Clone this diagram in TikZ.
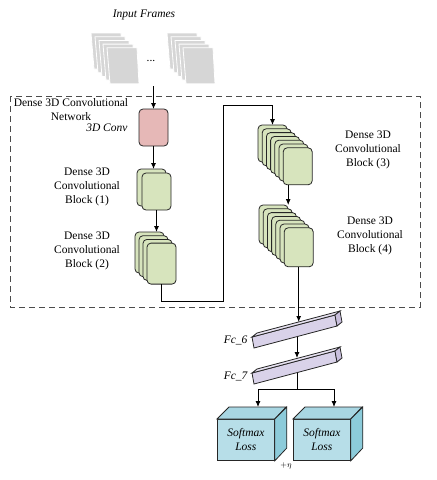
\documentclass[tikz,border=0pt]{standalone}
\usepackage{fontspec}
\setmainfont{Liberation Serif}
\usetikzlibrary{arrows.meta}

\definecolor{convpink}{HTML}{E6B8B7}
\definecolor{blockgreen}{HTML}{D7E4BD}
\definecolor{fcfront}{HTML}{D9D2E9}
\definecolor{fctop}{HTML}{E8E3F2}
\definecolor{fcend}{HTML}{C9BFDD}
\definecolor{lossfront}{HTML}{B7DEE8}
\definecolor{losstop}{HTML}{A8D6E2}
\definecolor{lossside}{HTML}{8CCBDA}
\definecolor{framegray}{HTML}{D6D6D6}

\tikzset{
  conn/.style={line width=0.9pt, -{Latex[length=6pt,width=5pt]}},
  plainline/.style={line width=0.9pt},
  sheet/.style={draw=black!85, line width=0.8pt, fill=blockgreen, rounded corners=4pt,
    minimum width=29pt, minimum height=37pt, anchor=north west, inner sep=0pt, outer sep=0pt},
  framesheet/.style={draw=white, line width=0.8pt, fill=framegray},
  lbl/.style={align=center, font=\fontsize{11.5}{14}\selectfont},
  itlbl/.style={align=center, font=\fontsize{11.5}{14}\selectfont\itshape},
  face/.style={draw=black!85, line width=0.8pt},
}

\begin{document}
\begin{tikzpicture}[x=1pt,y=-1pt]
  \useasboundingbox (0,0) rectangle (437,480);

  % Input frames
  \node[itlbl] (inlabel) at (144,15) {Input Frames};
  \foreach \i in {0,...,4} {
    \draw[framesheet] ({91+\i*4},{33+\i*3.7}) -- ++(30,0) -- ++(2,36) -- ++(-29,0) -- cycle;
    \draw[framesheet] ({167+\i*4},{33+\i*3.7}) -- ++(30,0) -- ++(2,36) -- ++(-29,0) -- cycle;
  }
  \node[lbl] (dots) at (151,61) {...};
  \coordinate (framesbot) at (153.5,86);

  % Dashed network box
  \draw[dash pattern=on 6pt off 4pt, line width=1pt, draw=black!70] (10,96) rectangle (420,307);
  \node[lbl] (netlabel) at (71,109.5) {Dense 3D Convolutional\\Network};

  % 3D conv
  \node[sheet, fill=convpink] (conv) at (139,109) {};
  \node[itlbl, anchor=east] (convlabel) at (131,128) {3D Conv};

  % Block 1
  \foreach \i in {0,1}
    \node[sheet] (blk1-\i) at ({137+\i*5},{169+\i*4}) {};
  \node[lbl] (lbl1) at (87,187) {Dense 3D\\Convolutional\\Block (1)};

  % Block 2
  \foreach \i in {0,...,3}
    \node[sheet, minimum height=41pt] (blk2-\i) at ({135+\i*4},{232+\i*3.7}) {};
  \node[lbl] (lbl2) at (87,251) {Dense 3D\\Convolutional\\Block (2)};

  % Block 3
  \foreach \i in {0,...,6}
    \node[sheet] (blk3-\i) at ({258+\i*4.2},{125+\i*3.8}) {};
  \node[lbl] (lbl3) at (368,150) {Dense 3D\\Convolutional\\Block (3)};

  % Block 4
  \foreach \i in {0,...,6}
    \node[sheet, minimum height=39pt] (blk4-\i) at ({259+\i*4.2},{205+\i*3.8}) {};
  \node[lbl] (lbl4) at (370,236) {Dense 3D\\Convolutional\\Block (4)};

  % Drawing connections inside the network
  \draw[conn] (framesbot) -- (framesbot |- conv.north);
  \draw[conn] (conv.south) -- (conv.south |- blk1-0.north);
  \draw[conn] (blk1-1.south) -- (blk1-1.south |- blk2-0.north);
  \coordinate (bendA) at (223,301);
  \coordinate (bendB) at (223,105);
  \draw[conn] (blk2-3.south) |- (bendA) -- (bendB) -| (blk3-0.north);
  \draw[conn] ([xshift=5pt]blk3-6.south west) -- ([xshift=5pt]blk3-6.south west |- blk4-0.north);

  % Fully connected layers
  \foreach \dy/\nm in {0/6,36/7} {
    \begin{scope}[yshift=-\dy pt]
      \draw[face, fill=fcfront] (252,337) -- (335,315) -- (337,326) -- (254,348) -- cycle;
      \draw[face, fill=fctop] (252,337) -- (257,333) -- (340,311) -- (335,315) -- cycle;
      \draw[face, fill=fcend] (335,315) -- (340,311) -- (342,322) -- (337,326) -- cycle;
      \node[itlbl, anchor=east] (fclabel\nm) at (251,340) {Fc\_\nm};
    \end{scope}
  }
  \coordinate (fc6in) at (298.5,322);
  \coordinate (fc6out) at (297,337);
  \coordinate (fc7in) at (297,358);
  \coordinate (fc7out) at (297,373);
  \coordinate (split) at (297,389);
  \draw[conn] (blk4-6.south) -- (blk4-6.south |- fc6in);
  \draw[conn] (fc6out) -- (fc7in);
  \draw[plainline] (fc7out) -- (split);

  % Softmax losses
  \foreach \x/\nm in {217/sm1,293/sm2} {
    \node[face, fill=lossfront, minimum width=57pt, minimum height=41pt, anchor=north west,
      inner sep=0pt, itlbl] (\nm) at (\x,419) {Softmax\\Loss};
    \draw[face, fill=losstop] (\nm.north west) -- ++(12,-12) -- ++(57,0) -- (\nm.north east) -- cycle;
    \draw[face, fill=lossside] (\nm.north east) -- ++(12,-12) -- ++(0,41) -- (\nm.south east) -- cycle;
  }
  \coordinate (sm1in) at (258,407);
  \coordinate (sm2in) at (334,407);
  \draw[conn] (split) -| (sm1in);
  \draw[conn] (split) -| (sm2in);
  \node[font=\footnotesize] (eta) at (286,466) {$+\eta$};
\end{tikzpicture}
\end{document}
